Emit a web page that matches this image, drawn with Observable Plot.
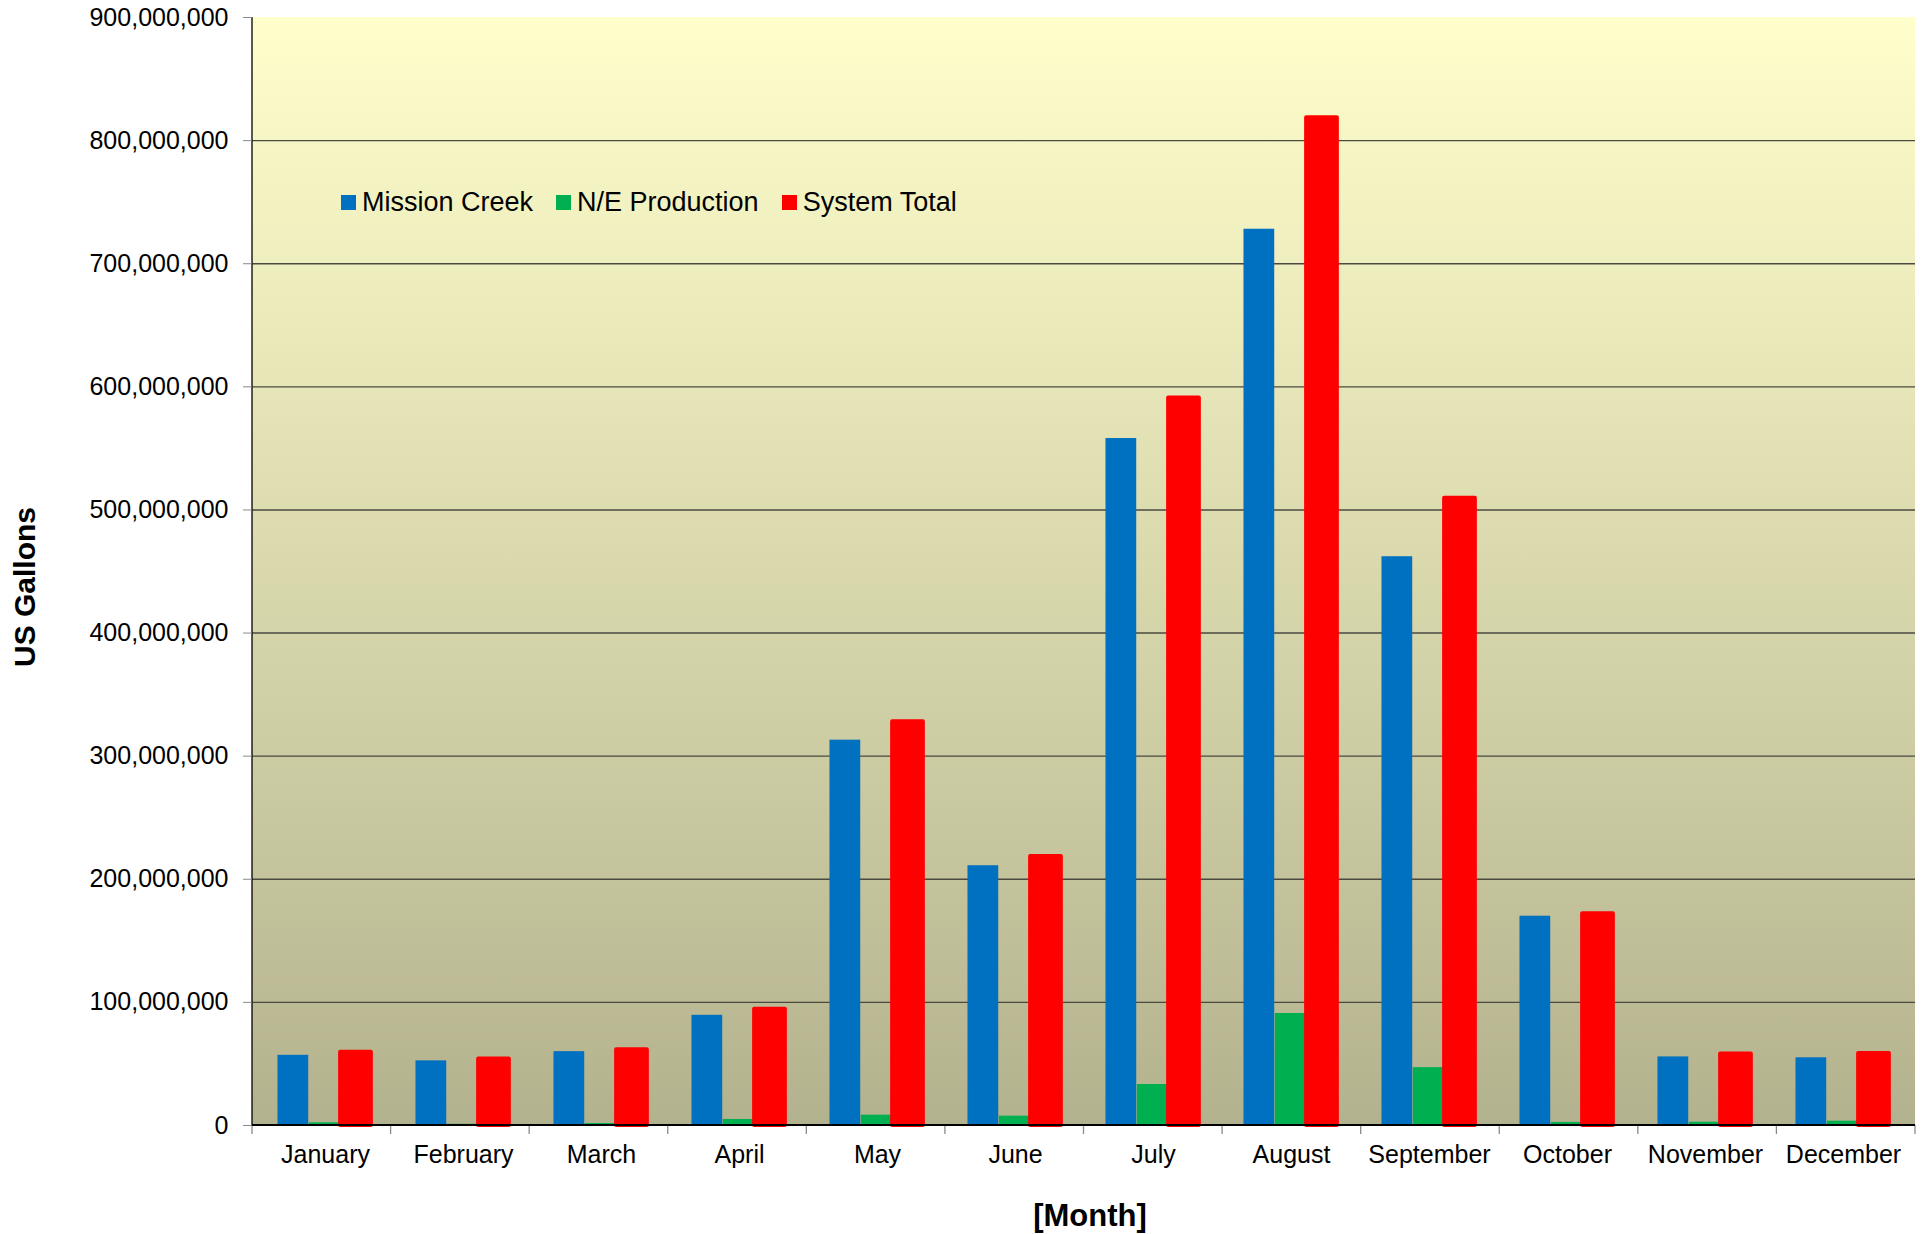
<!DOCTYPE html>
<html>
<head>
<meta charset="utf-8">
<script src="https://cdn.jsdelivr.net/npm/d3@7"></script>
<script src="https://cdn.jsdelivr.net/npm/@observablehq/plot@0.6"></script>
<style>
  html, body { margin: 0; padding: 0; background: #fff; }
  #wrap { position: relative; width: 1929px; height: 1234px; font-family: "Liberation Sans", Arial, sans-serif; color: #000; }
  #legend { position: absolute; left: 341px; top: 187px; display: flex; align-items: center; font-size: 27px; line-height: 30px; white-space: nowrap; }
  #legend .item { display: flex; align-items: center; margin-right: 23px; }
  #legend .sw { width: 15px; height: 15px; margin-right: 6px; }
  .xtitle { position: absolute; left: 0; width: 2180px; top: 1199px; text-align: center; font-weight: bold; font-size: 31px; line-height: 34px; }
  .ytitle { position: absolute; left: 25px; top: 587px; transform: translate(-50%, -50%) rotate(-90deg); font-weight: bold; font-size: 30px; white-space: nowrap; }
</style>
</head>
<body>
<div id="wrap">
  <div id="chart"></div>
  <div id="legend"></div>
  <div class="xtitle">[Month]</div>
  <div class="ytitle">US Gallons</div>
</div>
<script>
// ---------- data ----------
const months = ["January","February","March","April","May","June","July","August","September","October","November","December"];
const missionCreek = [57e6, 52.5e6, 60e6, 89.5e6, 313e6, 211e6, 558e6, 728e6, 462e6, 170e6, 55.7e6, 55e6];
const neProduction = [2.2e6, 1e6, 1.6e6, 4.9e6, 8.4e6, 7.6e6, 33.3e6, 91e6, 47e6, 2.5e6, 2.7e6, 3.5e6];
const systemTotal = [59.5e6, 54e6, 61.5e6, 94.5e6, 328e6, 218.5e6, 591e6, 818.5e6, 509.5e6, 172e6, 58e6, 58.5e6];
const seriesNames = ["Mission Creek", "N/E Production", "System Total"];
const seriesColors = ["#0070C0", "#00B050", "#FF0000"];
const yTicks = [0, 100e6, 200e6, 300e6, 400e6, 500e6, 600e6, 700e6, 800e6, 900e6];

// ---------- layout ----------
const W = 1929, H = 1234;
const mL = 252, mR = 14, mT = 17, mB = 109;
const step = (W - mL - mR) / months.length;
const leadFrac = 0.155, barFrac = 0.226;
const lead = step * leadFrac, barW = step * barFrac;
const bgTop = "#FFFFCC", bgBottom = "#B3B28E";

const table = months.map((m, i) => ({
  month: m,
  values: [missionCreek[i], neProduction[i], systemTotal[i]]
}));

function background(index, scales, values, dims) {
  const {width, height, marginLeft, marginRight, marginTop, marginBottom} = dims;
  const g = d3.create("svg:g");
  const grad = g.append("defs").append("linearGradient")
    .attr("id", "bgGrad").attr("x1", 0).attr("y1", 0).attr("x2", 0).attr("y2", 1);
  grad.append("stop").attr("offset", "0%").attr("stop-color", bgTop);
  grad.append("stop").attr("offset", "100%").attr("stop-color", bgBottom);
  g.append("rect")
    .attr("x", marginLeft).attr("y", marginTop)
    .attr("width", width - marginLeft - marginRight)
    .attr("height", height - marginTop - marginBottom)
    .attr("fill", "url(#bgGrad)");
  return g.node();
}

function axisDecor(index, scales, values, dims) {
  const {width, height, marginLeft, marginRight, marginTop, marginBottom} = dims;
  const g = d3.create("svg:g");
  const y0 = scales.y(0);
  const n = months.length;
  const s = (width - marginLeft - marginRight) / n;
  for (let k = 0; k <= n; k++) {
    const x = marginLeft + k * s;
    g.append("line").attr("x1", x).attr("x2", x).attr("y1", y0).attr("y2", y0 + 9)
      .attr("stroke", "#8a8a8a").attr("stroke-width", 1.3);
  }
  g.append("line").attr("x1", marginLeft).attr("x2", marginLeft)
    .attr("y1", marginTop).attr("y2", y0).attr("stroke", "#000").attr("stroke-width", 1.3);
  g.append("line").attr("x1", marginLeft).attr("x2", width - marginRight)
    .attr("y1", y0).attr("y2", y0).attr("stroke", "#000").attr("stroke-width", 2);
  return g.node();
}

const barMarks = seriesNames.map((name, i) => Plot.barY(table, {
  x: "month",
  y: d => d.values[i],
  fill: seriesColors[i],
  stroke: i === 2 ? seriesColors[i] : "none",
  strokeWidth: i === 2 ? 4 : 0,
  strokeLinejoin: "round",
  insetLeft: lead + i * barW,
  insetRight: step - lead - (i + 1) * barW
}));

const chart = Plot.plot({
  width: W,
  height: H,
  marginLeft: mL,
  marginRight: mR,
  marginTop: mT,
  marginBottom: mB,
  style: { fontFamily: "Liberation Sans, Arial, sans-serif", fontSize: "25px", color: "#000", background: "transparent", overflow: "visible" },
  x: { type: "band", domain: months, padding: 0, label: null },
  y: { domain: [0, 900e6], label: null },
  marks: [
    background,
    Plot.gridY(yTicks.filter(v => v > 0 && v < 900e6), { stroke: "#4a4a40", strokeOpacity: 1, strokeWidth: 1.4 }),
    ...barMarks,
    axisDecor,
    Plot.axisY({ ticks: yTicks, tickFormat: d3.format(","), tickSize: 9, tickPadding: 15, fontSize: 25, stroke: "#8a8a8a", fill: "#000", label: null }),
    Plot.axisX({ tickSize: 0, tickPadding: 20, fontSize: 25, fill: "#000", label: null })
  ]
});
document.getElementById("chart").appendChild(chart);

// legend
const legend = d3.select("#legend");
seriesNames.forEach((name, i) => {
  const item = legend.append("div").attr("class", "item");
  item.append("div").attr("class", "sw").style("background", seriesColors[i]);
  item.append("span").text(name);
});
</script>
</body>
</html>
